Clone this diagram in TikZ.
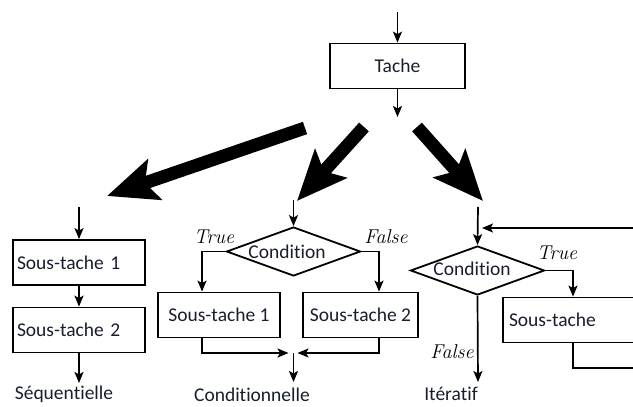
\documentclass[tikz,border=0pt]{standalone}
\usepackage{fontspec}
\usetikzlibrary{arrows.meta,shapes.geometric,calc}
\newfontfamily\boxfont[Ligatures=NoCommon]{Carlito}
\definecolor{ink}{RGB}{24,30,44}
\begin{document}
\begin{tikzpicture}[x=1pt,y=-1pt,
  line width=1.7pt,
  flow/.style={-{Stealth[length=11pt,width=9pt,inset=2.5pt]}},
  plain/.style={line width=1.7pt},
  bigarrow/.style={line width=13pt,-{Stealth[length=50pt,width=42pt,inset=10pt]}},
  stepbox/.style={draw,line width=1.8pt,minimum height=45pt,inner sep=0pt,
    font=\boxfont\fontsize{19.5}{22}\selectfont,text=ink},
  decision/.style={draw,diamond,line width=1.8pt,minimum width=134pt,
    minimum height=49pt,inner sep=0pt,aspect=2.7},
  boxtext/.style={font=\boxfont\fontsize{19.5}{22}\selectfont,text=ink,inner sep=0pt},
  branch/.style={font=\itshape\fontsize{20}{22}\selectfont,inner sep=0pt},
  caption/.style={font=\boxfont\fontsize{19.5}{22}\selectfont,text=ink,inner sep=0pt}]
\useasboundingbox (0,0) rectangle (633,407);

% --- main task ---
\node[stepbox,minimum width=135pt] (tache) at (397.5,66) {Tache};
\coordinate (tin) at (397.5,12);
\coordinate (tout) at (397.5,117);
\draw[flow] (tin) -- (tache.north);
\draw[flow] (tache.south) -- (tout);

% --- the three big dispatch arrows ---
\coordinate (b1s) at (305,128);
\coordinate (b1e) at (107,196);
\coordinate (b2s) at (364,127);
\coordinate (b2e) at (297,201);
\coordinate (b3s) at (417,127);
\coordinate (b3e) at (483,201);
\draw[bigarrow] (b1s) -- (b1e);
\draw[bigarrow] (b2s) -- (b2e);
\draw[bigarrow] (b3s) -- (b3e);

% --- sequential ---
\node[stepbox,minimum width=132pt,text width=124pt,align=left,inner xsep=4pt] (s1) at (79,262.5) {Sous-tache 1};
\node[stepbox,minimum width=132pt,text width=124pt,align=left,inner xsep=4pt] (s2) at (79,330) {Sous-tache 2};
\coordinate (sin) at (79,207);
\coordinate (sout) at (79,383);
\draw[flow] (sin) -- (s1.north);
\draw[flow] (s1.south) -- (s2.north);
\draw[flow] (s2.south) -- (sout);
\node[caption,anchor=west] (seqlab) at (14,394) {Séquentielle};

% --- conditional ---
\node[decision] (d1) at (293.5,251.5) {};
\node[boxtext] (d1t) at (287,252) {Condition};
\coordinate (cin) at (293.5,200);
\draw[flow] (cin) -- (d1.north);
\node[stepbox,minimum width=122pt] (c1) at (219,315) {Sous-tache 1};
\node[stepbox,minimum width=115pt] (c2) at (360.5,315) {Sous-tache 2};
\draw[flow] (d1.west) -| ([xshift=-17pt]c1.north);
\draw[flow] (d1.east) -| ([xshift=18.5pt]c2.north);
\node[branch] (ctrue) at (214,237) {True};
\node[branch] (cfalse) at (386,237) {False};
\coordinate (cm) at (293.5,353);
\coordinate (cout) at (293.5,382);
\draw[flow] ([xshift=-17pt]c1.south) |- ([xshift=-5pt]cm);
\draw[flow] ([xshift=18.5pt]c2.south) |- ([xshift=4pt]cm);
\draw[flow] (cm) -- (cout);
\node[caption] (condlab) at (252,395) {Conditionnelle};

% --- iterative ---
\node[decision] (d2) at (477.5,270.5) {};
\node[boxtext] (d2t) at (472,269) {Condition};
\coordinate (iin) at (478,207);
\draw[flow] (iin) -- (d2.north);
\coordinate (iback) at (640,228);
\coordinate (ibackend) at (482,228);
\draw[flow] (iback) -- (ibackend);
\node[stepbox,minimum width=140pt,text width=128pt,align=left,inner xsep=6pt] (i1) at (573,320) {Sous-tache};
\draw[flow] (d2.east) -| (i1.north);
\node[branch] (itrue) at (557,253) {True};
\coordinate (iloop) at (640,368);
\draw[plain] (i1.south) |- (iloop);
\coordinate (iout) at (478,382);
\draw[flow] (d2.south) -- (iout);
\node[branch] (ifalse) at (452,352) {False};
\node[caption] (iterlab) at (451,394) {Itératif};
\end{tikzpicture}
\end{document}
